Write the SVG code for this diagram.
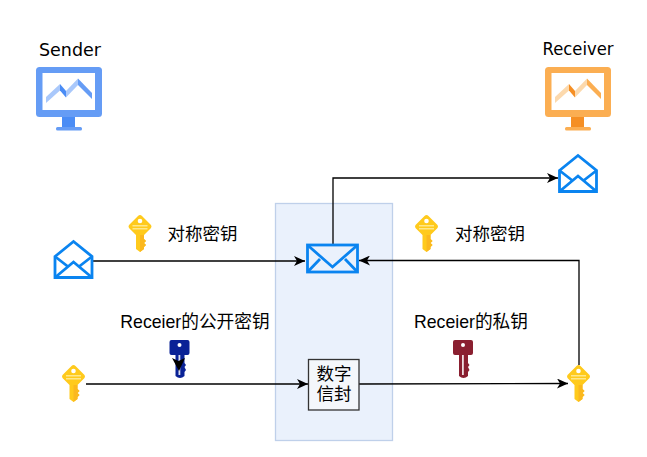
<svg xmlns="http://www.w3.org/2000/svg" xmlns:xlink="http://www.w3.org/1999/xlink" width="647" height="457" viewBox="0 0 647 457">
<style>
text{font-family:"Liberation Sans","Noto Sans CJK SC",sans-serif;font-size:17.500px;fill:#000;text-anchor:middle}
.s{font-size:17.700px}
.t{font-family:"DejaVu Sans","Noto Sans CJK SC",sans-serif;font-size:16.800px}
.c{fill:none;stroke:#000;stroke-width:1.300}
.e{fill:none;stroke:#0a84f0;stroke-width:2.800;stroke-linejoin:miter}
</style>
<defs>
<marker id="a" viewBox="0 0 12 10" refX="11" refY="5" markerWidth="12" markerHeight="10" markerUnits="userSpaceOnUse" orient="auto"><path d="M0 0L11 5L0 10L3 5Z" fill="#000"/></marker>
<g id="key">
<path d="M12 0Q13 0 14 1L23 10Q24 11.500 23 13L16 20V24L18 26L16 28L18 30L16 32V34L12 37L8 34V20L1 13Q0 11.500 1 10L10 1Q11 0 12 0Z" fill="#ffca1c"/>
<path d="M12 20H16V24L18 26L16 28L18 30L16 32V34L12 37Z" fill="#fbb81e"/>
<circle cx="12" cy="6" r="2.300" fill="#fff"/>
<rect x="4.500" y="10" width="15" height="1.500" fill="#ffe88a"/><rect x="4.500" y="13" width="15" height="1.500" fill="#ffe88a"/>
</g>
<g id="dkey">
<path d="M2 0H18Q20 0 20 2V13Q20 15 18 15H15V23L16.500 25L15 27L16.500 30L15 32V36Q10.500 40 6 36V15H2Q0 15 0 13V2Q0 0 2 0Z"/>
<circle cx="10" cy="5" r="2" fill="#fff"/>
<rect x="9" y="15" width="1.800" height="20" fill="#fff" opacity=".85"/>
</g>
<g id="oenv" class="e"><path d="M1.500 16.500L20 1.500L38.500 16.500V37.500H1.500Z"/><path d="M1.500 16.500L15 27M38.500 16.500L25 27M1.500 37.500L20 22L38.500 37.500"/></g>
<g id="mon">
<rect x="0" y="0" width="66" height="50" rx="3.500"/>
<rect x="20" y="60" width="26" height="3.500" rx="1.500"/>
</g>
</defs>
<rect width="647" height="457" fill="#fff"/>
<rect id="panel" x="275.500" y="203.500" width="117" height="237" fill="#eaf1fc" stroke="#bfd0ea" stroke-width="1.300"/>
<g id="connectors">
<path class="c" d="M93 261H305" marker-end="url(#a)"/>
<path class="c" d="M579 365V260.500H359" marker-end="url(#a)"/>
<path class="c" d="M333 244V178H558" marker-end="url(#a)"/>
<path class="c" d="M86 384H308" marker-end="url(#a)"/>
<path class="c" d="M359 384L568 383.500" marker-end="url(#a)"/>
</g>
<g id="sender">
<text class="t" x="70" y="56" textLength="62" lengthAdjust="spacingAndGlyphs">Sender</text>
<use xlink:href="#mon" x="36" y="67" fill="#659cf5"/>
<rect x="62" y="117" width="13" height="10" fill="#4a8cf5"/>
<rect x="42.500" y="73" width="52.500" height="37" fill="#fff"/>
<path d="M46 97L60 84V90.500L46 103Z" fill="#a9c8fb"/>
<path d="M66 91L78 78.500V85L66 97.500Z" fill="#a9c8fb"/>
<path d="M60 84L66 91V97.500L60 90.500Z" fill="#4a8cf5"/>
<path d="M78 78.500L92 93V99L78 85Z" fill="#659cf5"/>
</g>
<g id="receiver">
<text class="t" x="578" y="55" textLength="71" lengthAdjust="spacingAndGlyphs">Receiver</text>
<use xlink:href="#mon" x="545" y="67" fill="#fbae52"/>
<rect x="571" y="117" width="13" height="10" fill="#f58f24"/>
<rect x="551.500" y="73" width="52.500" height="37" fill="#fff"/>
<path d="M555 97L569 84V90.500L555 103Z" fill="#fcd9ad"/>
<path d="M575 91L587 78.500V85L575 97.500Z" fill="#fcd9ad"/>
<path d="M569 84L575 91V97.500L569 90.500Z" fill="#f58f24"/>
<path d="M587 78.500L601 93V99L587 85Z" fill="#fbae52"/>
</g>
<g id="env-top"><use xlink:href="#oenv" x="558" y="154"/></g>
<g id="env-left"><use xlink:href="#oenv" x="53.500" y="240"/></g>
<g id="env-mid">
<rect class="e" x="307.500" y="245" width="50" height="27"/>
<path class="e" d="M308 245.500L332.500 267L357 245.500M308 271.500L320 259M357 271.500L345 259"/>
</g>
<g id="key-sym-left"><use xlink:href="#key" x="128" y="215"/><text x="202.500" y="240">对称密钥</text></g>
<g id="key-sym-right"><use xlink:href="#key" x="414.500" y="215"/><text x="490" y="240">对称密钥</text></g>
<g id="key-left"><use xlink:href="#key" x="61.500" y="365"/></g>
<g id="key-right"><use xlink:href="#key" x="566.500" y="365"/></g>
<g id="key-public">
<text class="s" x="195" y="328">Receier的公开密钥</text>
<use xlink:href="#dkey" x="169.500" y="340" fill="#0a2296"/>
<path d="M172 358L178.500 361L185 358L179 371Z" fill="#000"/>
</g>
<g id="key-private">
<text class="s" x="471" y="328">Receier的私钥</text>
<use xlink:href="#dkey" x="453" y="340" fill="#8a1f30"/>
</g>
<g id="envelope-box">
<rect x="308.500" y="359.500" width="50.500" height="50.500" fill="#f4f7fb" stroke="#333" stroke-width="1.300"/>
<text x="334" y="380">数字</text>
<text x="334" y="400">信封</text>
</g>
</svg>
